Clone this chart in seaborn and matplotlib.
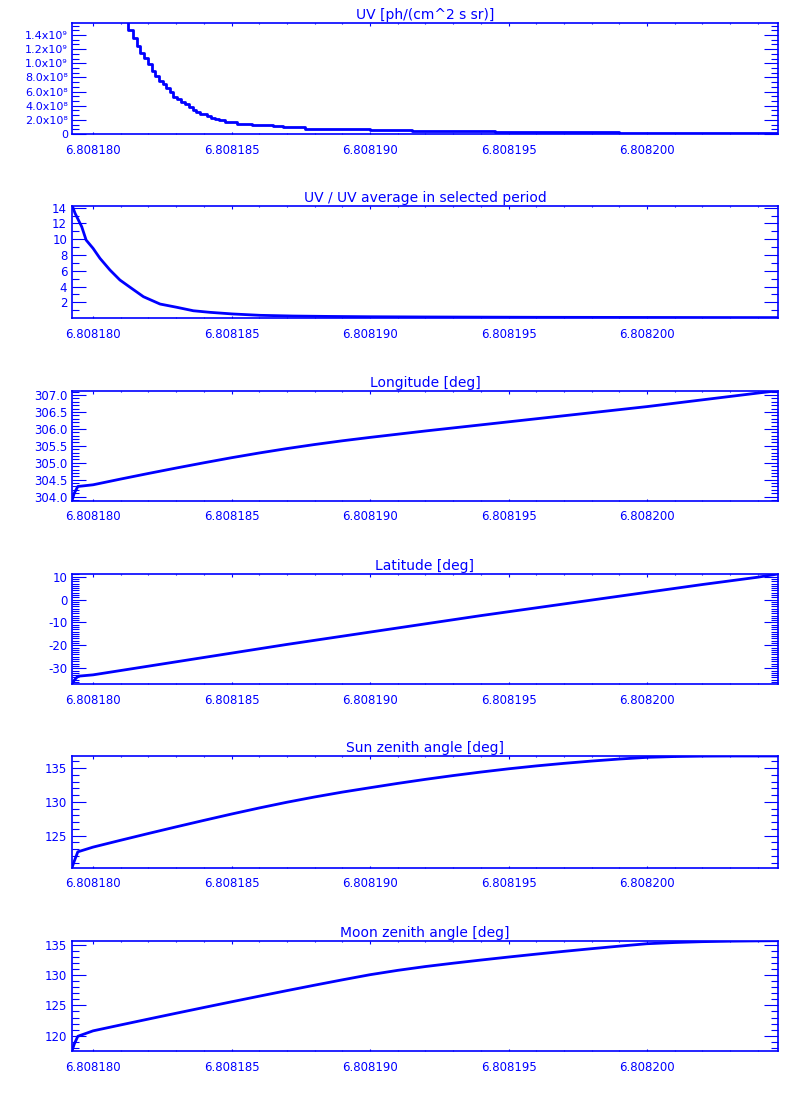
import numpy as np
import pandas as pd
import matplotlib
matplotlib.use("Agg")
import matplotlib.pyplot as plt
import matplotlib.ticker as mticker
import seaborn as sns

BLUE = "#0000ff"
T0 = 6.808180  # reference time; offsets below are in units of 1e-6

# ---- UV [ph/(cm^2 s sr)] (histogram-style steps) ----
uv_t = [-0.76, 0.0, 0.6, 1.0, 1.27, 1.43, 1.60, 1.70, 1.84, 1.97, 2.12, 2.24, 2.38,
        2.52, 2.64, 2.78, 2.90, 3.02, 3.17, 3.31, 3.45, 3.60, 3.72, 3.86, 4.10, 4.25,
        4.40, 4.56, 4.77, 5.06, 5.19, 5.61, 5.73, 6.51, 6.85, 7.65, 8.6, 10.0, 11.5,
        13.0, 14.5, 16.0, 17.5, 19.0, 21.0, 23.0, 24.73]
uv_val = [5.6e9, 3.4e9, 2.4e9, 1.9e9, 1.47e9, 1.36e9, 1.25e9, 1.15e9, 1.07e9, 0.986e9,
          0.895e9, 0.82e9, 0.754e9, 0.707e9, 0.655e9, 0.59e9, 0.528e9, 0.49e9, 0.457e9,
          0.43e9, 0.386e9, 0.34e9, 0.307e9, 0.283e9, 0.255e9, 0.23e9, 0.212e9, 0.194e9,
          0.174e9, 0.165e9, 0.146e9, 0.137e9, 0.123e9, 0.109e9, 0.095e9, 0.075e9,
          0.065e9, 0.055e9, 0.047e9, 0.040e9, 0.034e9, 0.028e9, 0.022e9, 0.018e9,
          0.013e9, 0.009e9, 0.006e9]

# ---- UV / UV average in selected period ----
ratio_t = [-0.76, -0.73, -0.65, -0.53, -0.41, -0.25, 0.0, 0.25, 0.61, 0.97, 1.34, 1.82,
           2.42, 3.02, 3.62, 4.22, 5.05, 6.03, 7.22, 8.5, 10.0, 12.0, 14.0, 16.0, 18.0,
           20.0, 22.0, 24.73]
ratio_val = [14.2, 14.05, 13.3, 12.45, 11.6, 9.9, 8.85, 7.58, 6.1, 4.83, 3.9, 2.71,
             1.78, 1.37, 0.93, 0.73, 0.52, 0.35, 0.26, 0.21, 0.17, 0.14, 0.12, 0.10, 0.09,
             0.08, 0.07, 0.06]

# ---- geometry series share one time grid ----
geo_t = [-0.76, -0.68, -0.55, 0, 1, 2, 3, 4, 5, 6, 7, 8, 9, 10, 11, 12, 13, 14, 15, 16,
         17, 18, 19, 20, 21, 22, 23, 24, 24.73]
lon_val = [303.88, 304.10, 304.30, 304.35, 304.52, 304.685, 304.845, 305.0, 305.15,
           305.29, 305.42, 305.54, 305.65, 305.75, 305.845, 305.94, 306.03, 306.12,
           306.21, 306.30, 306.39, 306.48, 306.57, 306.66, 306.76, 306.86, 306.96,
           307.06, 307.13]
lat_val = [-36.9, -35.3, -33.5, -32.9, -31.0, -29.1, -27.2, -25.3, -23.4, -21.5, -19.6,
           -17.8, -16.0, -14.2, -12.4, -10.6, -8.8, -7.0, -5.3, -3.6, -1.9, -0.2, 1.5,
           3.2, 4.9, 6.6, 8.2, 9.8, 11.2]
sun_val = [120.25, 121.2, 122.6, 123.3, 124.32, 125.32, 126.3, 127.26, 128.2, 129.1,
           129.95, 130.73, 131.45, 132.1, 132.74, 133.34, 133.9, 134.42, 134.9, 135.33,
           135.71, 136.05, 136.35, 136.6, 136.72, 136.78, 136.8, 136.8, 136.8]
moon_val = [117.47, 118.6, 119.9, 120.8, 121.78, 122.75, 123.71, 124.66, 125.6, 126.53,
            127.45, 128.35, 129.23, 130.08, 130.8, 131.43, 131.98, 132.5, 133.0, 133.48,
            133.94, 134.38, 134.8, 135.2, 135.4, 135.54, 135.62, 135.67, 135.7]

SUPER = str.maketrans("0123456789", "⁰¹²³⁴⁵⁶⁷⁸⁹")


def to_time(offsets):
    return T0 + np.array(offsets) * 1e-6


def uv_fmt(v, pos):
    if v <= 1:
        return "0" if abs(v) <= 1 else ""
    e = int(np.floor(np.log10(v) + 1e-9))
    return f"{v / 10**e:.1f}x10" + str(e).translate(SUPER)


panels = [
    dict(title="UV [ph/(cm^2 s sr)]", t=uv_t, y=uv_val, ylim=(0, 1.566e9),
         major=2e8, minor=3, fmt=mticker.FuncFormatter(uv_fmt), steps=True, box=(23.3, 134)),
    dict(title="UV / UV average in selected period", t=ratio_t, y=ratio_val,
         ylim=(0.01, 14.22), major=2, minor=2, fmt=mticker.FormatStrFormatter("%d"),
         box=(206, 318)),
    dict(title="Longitude [deg]", t=geo_t, y=lon_val, ylim=(303.88, 307.13), major=0.5,
         minor=5, fmt=mticker.FormatStrFormatter("%.1f"), box=(390.7, 500.7)),
    dict(title="Latitude [deg]", t=geo_t, y=lat_val, ylim=(-36.9, 11.2), major=10,
         minor=10, fmt=mticker.FormatStrFormatter("%d"), box=(574, 684)),
    dict(title="Sun zenith angle [deg]", t=geo_t, y=sun_val, ylim=(120.25, 136.8),
         major=5, minor=5, fmt=mticker.FormatStrFormatter("%d"), box=(756, 867.7)),
    dict(title="Moon zenith angle [deg]", t=geo_t, y=moon_val, ylim=(117.47, 135.7),
         major=5, minor=5, fmt=mticker.FormatStrFormatter("%d"), box=(940.7, 1051)),
]

sns.set_theme(style="ticks")
plt.rcParams["font.family"] = ["DejaVu Sans"]
plt.rcParams["text.color"] = BLUE
plt.rcParams["axes.edgecolor"] = BLUE
plt.rcParams["axes.linewidth"] = 1.2

W, H = 800, 1100
fig = plt.figure(figsize=(W / 100, H / 100), dpi=100)
left_px, right_px = 72, 778
xlim = (T0 - 0.76e-6, T0 + 24.73e-6)

for i, p in enumerate(panels):
    top, bot = p["box"]
    ax = fig.add_axes([left_px / W, 1 - bot / H, (right_px - left_px) / W, (bot - top) / H])
    df = pd.DataFrame({"time": to_time(p["t"]), "value": p["y"]})
    kw = dict(drawstyle="steps-post") if p.get("steps") else {}
    sns.lineplot(data=df, x="time", y="value", ax=ax, color=BLUE, linewidth=2.0,
                 errorbar=None, sort=False, **kw)
    ax.set_xlim(*xlim)
    ax.set_ylim(*p["ylim"])
    ax.set_xlabel("")
    ax.set_ylabel("")
    ax.set_title(p["title"], color=BLUE, fontsize=10, pad=3)
    ax.xaxis.set_major_locator(mticker.MultipleLocator(5e-6))
    ax.xaxis.set_minor_locator(mticker.AutoMinorLocator(5))
    ax.xaxis.set_major_formatter(mticker.FormatStrFormatter("%.6f"))
    ax.yaxis.set_major_locator(mticker.MultipleLocator(p["major"]))
    ax.yaxis.set_minor_locator(mticker.AutoMinorLocator(p["minor"]))
    ax.yaxis.set_major_formatter(p["fmt"])
    ax.tick_params(axis="both", which="both", direction="in", top=True, bottom=True,
                   left=True, right=True, color=BLUE, labelcolor=BLUE, width=0.8,
                   labelsize=8.5)
    ax.tick_params(axis="y", which="major", length=10, pad=3.5)
    ax.tick_params(axis="y", which="minor", length=5)
    ax.tick_params(axis="x", which="major", length=1.8, pad=7)
    ax.tick_params(axis="x", which="minor", length=1.0)
    if i == 0:
        ax.tick_params(axis="y", which="major", labelsize=8, pad=3)
    for s in ax.spines.values():
        s.set_color(BLUE)
        s.set_visible(True)
    ax.grid(False)

fig.savefig("out.png", dpi=100)
plt.close(fig)
